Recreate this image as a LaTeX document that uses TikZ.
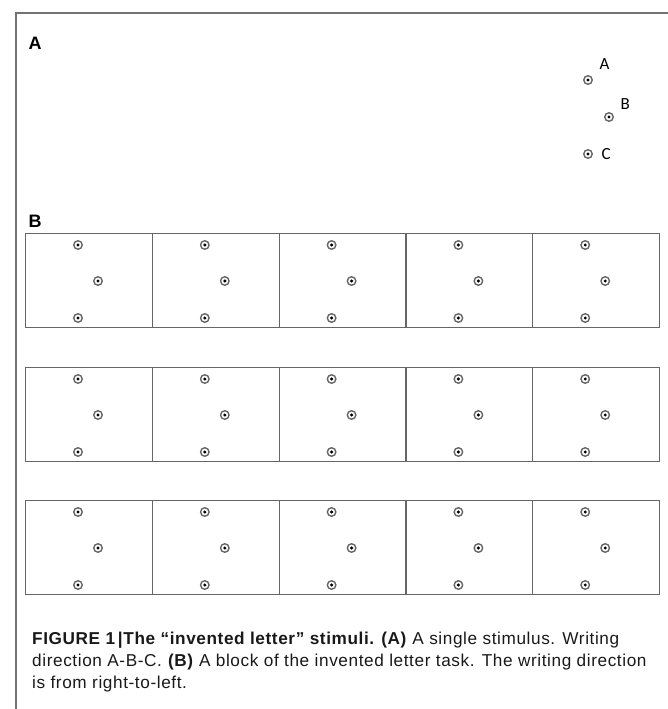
\documentclass[tikz,border=0pt]{standalone}
\usepackage{fontspec}
\setmainfont{Liberation Sans}
\newfontfamily\capfont{Liberation Sans}[LetterSpace=3.5]
\newfontfamily\lblfont{Carlito}
\usetikzlibrary{calc}

\begin{document}
\begin{tikzpicture}[
  x=1pt, y=-1pt,
  frame/.style={draw=black!55, line width=1.4pt},
  cell/.style={draw=black!60, line width=0.8pt, minimum width=127pt, minimum height=94pt,
    inner sep=0pt, anchor=north west},
  stim/.style={circle, draw=black!60, line width=1.4pt, minimum size=8.5pt, inner sep=0pt,
    path picture={\fill[black] (path picture bounding box.center) circle (1.7pt);}},
  panel/.style={font=\bfseries\fontsize{18}{18}\selectfont, anchor=base west},
  letter/.style={font=\lblfont\fontsize{17}{17}\selectfont, anchor=base west}
]
  \useasboundingbox (0,0) rectangle (668,709);

  % frame
  \coordinate (ftl) at (16,13);
  \coordinate (ftr) at (668,13);
  \coordinate (fbl) at (16,709);
  \draw[frame] (ftr) -- (ftl) -- (fbl);

  % panel A
  \node[panel] (pa) at (25,50) {A};
  \node[stim] (sa) at (588,80) {};
  \node[stim] (sb) at (609,117) {};
  \node[stim] (sc) at (588,154) {};
  \node[letter] at (596,70) {A};
  \node[letter] at (617,109) {B};
  \node[letter] at (598,159) {C};

  % panel B
  \node[panel] (pb) at (25,227) {B};
  \foreach \r/\ry in {0/233,1/367,2/500}{
    \foreach \c in {0,...,4}{
      \node[cell] (cell\r\c) at ({25+126.8*\c},\ry) {};
      \node[stim] (t\r\c) at ($(cell\r\c.north west)+(53,12)$) {};
      \node[stim] (m\r\c) at ($(cell\r\c.north west)+(73,48)$) {};
      \node[stim] (b\r\c) at ($(cell\r\c.north west)+(53,85)$) {};
    }
  }

  % caption
  \node[anchor=north west, align=left, inner sep=0pt, text=black!90,
    font=\capfont\fontsize{17.2}{22}\selectfont] (cap) at (32,632)
    {\textbf{FIGURE 1\,|The “invented letter” stimuli. (A)} A single stimulus. Writing\\
     direction A-B-C. \textbf{(B)} A block of the invented letter task. The writing direction\\
     is from right-to-left.};
\end{tikzpicture}
\end{document}
